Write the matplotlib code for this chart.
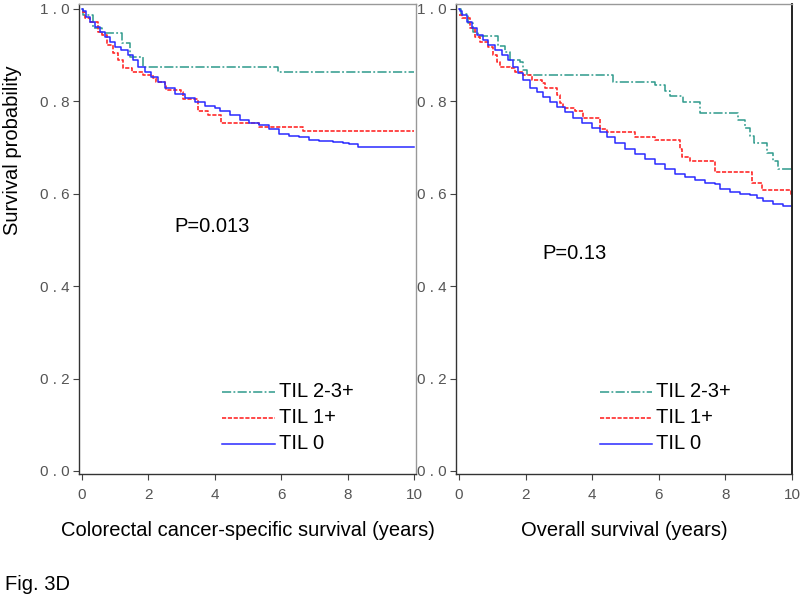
import matplotlib
matplotlib.use("Agg")
import matplotlib.pyplot as plt

# ---------------- data ----------------
# Colorectal cancer-specific survival
css_til23_t = [0, 0.05, 0.34, 0.6, 1.2, 1.45, 1.85, 5.9, 10]
css_til23_s = [1.0, 0.987, 0.959, 0.948, 0.926, 0.896, 0.875, 0.864, 0.864]

css_til1_t = [0, 0.1, 0.25, 0.5, 0.6, 0.75, 0.95, 1.1, 1.25, 1.5, 1.85, 2.15, 2.25, 2.5,
              2.55, 3.0, 3.05, 3.5, 3.8, 4.2, 5.35, 6.65, 10]
css_til1_s = [0.993, 0.98, 0.972, 0.95, 0.943, 0.922, 0.904, 0.889, 0.872, 0.863, 0.857, 0.85,
              0.841, 0.835, 0.824, 0.82, 0.806, 0.78, 0.77, 0.754, 0.745, 0.736, 0.736]

css_til0_t = [0, 0.04, 0.13, 0.25, 0.4, 0.55, 0.7, 0.85, 1.0, 1.18, 1.4, 1.55, 1.7, 1.9, 2.08,
              2.3, 2.5, 2.8, 3.1, 3.4, 3.7, 4.0, 4.15, 4.45, 4.75, 5.05, 5.35, 5.65, 5.95,
              6.25, 6.55, 6.85, 7.15, 7.55, 7.85, 8.05, 8.3, 10]
css_til0_s = [1.0, 0.995, 0.983, 0.972, 0.961, 0.95, 0.939, 0.928, 0.917, 0.911, 0.9, 0.889,
              0.874, 0.863, 0.852, 0.841, 0.83, 0.817, 0.807, 0.798, 0.79, 0.785, 0.78, 0.77,
              0.759, 0.754, 0.748, 0.741, 0.73, 0.726, 0.722, 0.717, 0.715, 0.713, 0.711,
              0.707, 0.702, 0.702]

# Overall survival
os_til23_t = [0, 0.05, 0.27, 0.42, 0.57, 1.17, 1.38, 1.53, 1.83, 1.92, 2.04, 4.62, 5.9, 6.2,
              6.35, 6.73, 7.24, 8.38, 8.6, 8.75, 8.85, 9.25, 9.43, 9.58, 10]
os_til23_s = [1.0, 0.99, 0.97, 0.95, 0.941, 0.92, 0.907, 0.889, 0.885, 0.867, 0.857, 0.843,
              0.836, 0.823, 0.812, 0.799, 0.774, 0.759, 0.743, 0.726, 0.709, 0.689, 0.672,
              0.654, 0.654]

os_til1_t = [0, 0.1, 0.33, 0.48, 0.63, 0.87, 1.02, 1.14, 1.23, 1.53, 1.68, 1.92, 2.2, 2.5,
             2.58, 2.94, 3.03, 3.12, 3.48, 3.72, 4.02, 4.23, 4.44, 5.28, 5.89, 6.64, 6.7, 6.95,
             7.69, 8.8, 9.1, 9.97, 10]
os_til1_s = [0.987, 0.98, 0.959, 0.939, 0.928, 0.917, 0.9, 0.885, 0.874, 0.872, 0.863, 0.857,
             0.846, 0.839, 0.828, 0.813, 0.796, 0.785, 0.78, 0.765, 0.763, 0.741, 0.733,
             0.724, 0.717, 0.698, 0.68, 0.67, 0.648, 0.624, 0.609, 0.596, 0.596]

os_til0_t = [0, 0.03, 0.09, 0.24, 0.39, 0.54, 0.72, 0.87, 1.08, 1.29, 1.47, 1.62, 1.77, 1.92,
             2.13, 2.34, 2.52, 2.73, 2.94, 3.18, 3.42, 3.69, 3.99, 4.23, 4.44, 4.68, 4.98,
             5.28, 5.59, 5.89, 6.19, 6.49, 6.79, 7.09, 7.39, 7.69, 7.84, 8.14, 8.44, 8.74,
             8.95, 9.13, 9.43, 9.73, 10]
os_til0_s = [1.0, 0.995, 0.987, 0.972, 0.959, 0.943, 0.933, 0.922, 0.911, 0.9, 0.889, 0.874,
             0.861, 0.846, 0.83, 0.82, 0.809, 0.798, 0.787, 0.776, 0.765, 0.754, 0.743, 0.733,
             0.722, 0.709, 0.698, 0.687, 0.676, 0.665, 0.654, 0.643, 0.637, 0.63, 0.624,
             0.622, 0.611, 0.604, 0.6, 0.598, 0.591, 0.585, 0.578, 0.574, 0.572]

group_labels = ["TIL 2-3+", "TIL 1+", "TIL 0"]
x_ticks = [0, 2, 4, 6, 8, 10]
y_ticks = [0.0, 0.2, 0.4, 0.6, 0.8, 1.0]
y_tick_labels = ["0 . 0", "0 . 2", "0 . 4", "0 . 6", "0 . 8", "1 . 0"]
p_values = ["P=0.013", "P=0.13"]
x_titles = ["Colorectal cancer-specific survival (years)", "Overall survival (years)"]

# ---------------- styles ----------------
TEAL = "#2e9a8c"
RED = "#ff2a2a"
BLUE = "#2a2aff"
styles = [
    dict(color=TEAL, linestyle=(0, (6, 1.5, 1.2, 1.5)), linewidth=1.1),
    dict(color=RED, linestyle=(0, (2.5, 1.0)), linewidth=1.2),
    dict(color=BLUE, linestyle="-", linewidth=1.1),
]

FONT = "Liberation Sans"
fig = plt.figure(figsize=(8.0, 6.01), dpi=100)
tick_font = dict(family=FONT, size=11, color="#555555")

panels = [
    dict(rect=[79/800, 1-474/601, 337/800, 470/601], xlim=(-0.08, 10.06),
         curves=[(css_til23_t, css_til23_s), (css_til1_t, css_til1_s), (css_til0_t, css_til0_s)],
         ptxt=p_values[0], pxy=(2.8, 0.53), leg_x=(4.22, 5.82), ylabel=True),
    dict(rect=[456/800, 1-474/601, 336/800, 470/601], xlim=(-0.09, 10.0),
         curves=[(os_til23_t, os_til23_s), (os_til1_t, os_til1_s), (os_til0_t, os_til0_s)],
         ptxt=p_values[1], pxy=(2.5, 0.47), leg_x=(4.23, 5.8), ylabel=False),
]

for k, pnl in enumerate(panels):
    ax = fig.add_axes(pnl["rect"])
    for (t, s), st in zip(pnl["curves"], styles):
        ax.plot(t, s, drawstyle="steps-post", **st)
    ax.set_xlim(*pnl["xlim"])
    ax.set_ylim(-0.0065, 1.0108)
    ax.set_xticks(x_ticks)
    ax.set_xticklabels([str(v) for v in x_ticks], fontdict=tick_font)
    ax.set_yticks(y_ticks)
    ax.set_yticklabels(y_tick_labels, fontdict=tick_font)
    ax.tick_params(direction="out", length=4, width=0.8, color="#444444", pad=3)
    ax.tick_params(axis="x", pad=6)
    for side in ["left", "bottom"]:
        ax.spines[side].set_color("#333333")
        ax.spines[side].set_linewidth(1.0)
    for side in ["top", "right"]:
        ax.spines[side].set_color("#999999")
        ax.spines[side].set_linewidth(1.0)
    if k == 1:
        ax.spines["right"].set_color("#222222")
        ax.spines["right"].set_linewidth(1.4)
    ax.text(pnl["pxy"][0], pnl["pxy"][1], pnl["ptxt"], fontsize=14.5,
            family=FONT, ha="left", va="center")
    # legend drawn inside the axes
    for i, (lab, st) in enumerate(zip(group_labels, styles)):
        yy = 0.172 - i * 0.0565
        ax.plot(pnl["leg_x"], [yy, yy], **st)
        ax.text(pnl["leg_x"][1] + 0.12, yy, lab, fontsize=14.5, family=FONT,
                ha="left", va="center")
    ax.set_xlabel(x_titles[k], fontsize=14.5, family=FONT, labelpad=14)
    if pnl["ylabel"]:
        ax.set_ylabel("Survival probability", fontsize=14.5, family=FONT)
        ax.yaxis.set_label_coords(-0.168, 0.69)

fig.text(5/800, 1-585/601, "Fig. 3D", fontsize=14.5, family=FONT, ha="left", va="center")

fig.savefig("out.png", dpi=100)
